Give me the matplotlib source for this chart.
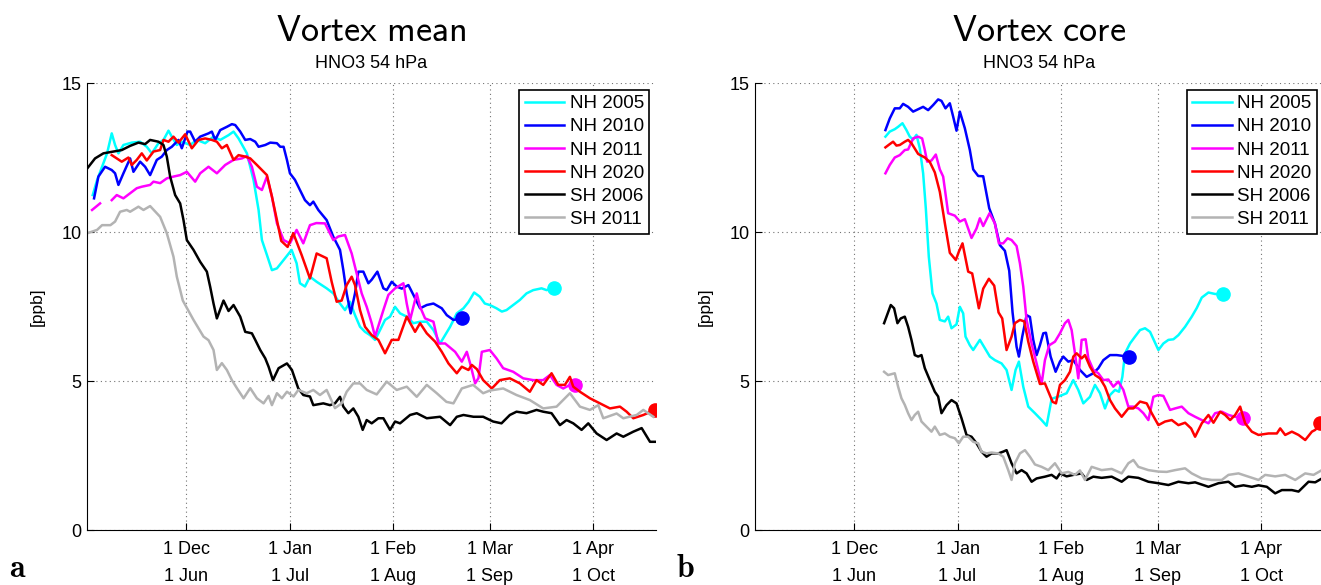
import numpy as np
import matplotlib
matplotlib.use("Agg")
import matplotlib.pyplot as plt

plt.rcParams['font.family'] = ['Liberation Sans', 'DejaVu Sans']
plt.rcParams['mathtext.fontset'] = 'cm'

# ---- x axis: days since 1 Dec (NH) / 1 Jun (SH) ----
tick_days = [0, 31, 62, 91, 122]
tick_labels = ["1 Dec\n1 Jun", "1 Jan\n1 Jul", "1 Feb\n1 Aug", "1 Mar\n1 Sep", "1 Apr\n1 Oct"]
labels = ["NH 2005", "NH 2010", "NH 2011", "NH 2020", "SH 2006", "SH 2011"]
colors = ["#00FFFF", "#0000FF", "#FF00FF", "#FF0000", "#000000", "#B3B3B3"]
with_marker = [True, True, True, True, False, False]

# ---- panel a: vortex mean ----
mean_nh2005_day = [-28, -26.7, -25.2, -23.7, -22.3, -21.3, -20.3, -18.8, -16.3, -13.8, -11.8, -10.3, -8.3, -6.8,
                   -5.3, -4.3, -2.8, -1.3, 1.2, 3.2, 5.7, 8.2, 10.2, 12.7, 14.2, 15.7, 18.2, 20.2, 21.7, 22.7,
                   24.2, 25.7, 27.2, 29.2, 31.6, 33.1, 34.1, 35.6, 37.1, 39.1, 42.1, 44.1, 46.1, 47.6, 49.1,
                   50.6, 52.1, 53.6, 55.1, 56.6, 58.1, 59.6, 61.1, 62.6, 64.1, 66.1, 68.1, 70.1, 72.1, 74.1,
                   76.1, 77.6, 79.1, 81.1, 83.1, 84.6, 86.3, 88, 89.5, 91, 93, 94.6, 96, 98, 100, 102, 104,
                   106.5, 108, 110.2]
mean_nh2005 = [11.24, 11.74, 12.19, 12.64, 13.31, 12.92, 12.64, 12.92, 13.0, 13.03, 12.86, 12.64, 12.98, 13.09,
               13.4, 13.2, 12.92, 13.03, 12.92, 13.09, 12.98, 13.2, 13.09, 13.25, 13.37, 13.14, 12.64, 11.74,
               10.74, 9.73, 9.23, 8.72, 8.78, 9.06, 9.4, 8.95, 8.28, 8.17, 8.5, 8.33, 8.11, 7.94, 7.6, 7.38,
               7.66, 7.21, 6.82, 6.65, 6.54, 6.38, 6.71, 7.05, 7.16, 7.49, 7.27, 7.16, 6.94, 6.99, 6.99, 6.71,
               6.26, 6.54, 6.82, 7.27, 7.44, 7.65, 7.97, 7.83, 7.6, 7.55, 7.44, 7.33, 7.38, 7.55, 7.72, 7.94,
               8.05, 8.11, 8.05, 8.11]

mean_nh2010_day = [-27.6, -26.3, -24.3, -22.3, -21.3, -20.3, -18.8, -16.8, -15.8, -13.8, -12.3, -10.8, -8.8, -7.3,
                   -5.8, -4.3, -2.3, -1.3, 0.4, 1.2, 2.7, 4.2, 6.7, 7.7, 8.7, 10.2, 12.2, 13.7, 14.7, 16.2, 17.7,
                   19.2, 20.7, 21.7, 23.7, 25.2, 27.2, 28.2, 29.2, 30.2, 31.1, 32.6, 34.1, 35.6, 37.1, 38.1, 39.6,
                   42.1, 44.1, 46.1, 47.1, 48.1, 49.3, 50.6, 51.6, 53.1, 54.6, 55.6, 57.3, 59.1, 60.1, 61.6, 63.1,
                   64.6, 66.6, 68.1, 70.1, 72.1, 74.1, 76.6, 78.1, 80.1, 82.6]
mean_nh2010 = [11.13, 11.86, 12.19, 12.08, 11.97, 11.58, 11.97, 12.47, 12.02, 12.36, 12.19, 11.91, 12.42, 12.53,
               12.75, 12.86, 13.09, 12.81, 13.37, 13.37, 13.03, 13.2, 13.31, 13.37, 13.09, 13.42, 13.53, 13.62,
               13.59, 13.37, 13.09, 13.12, 13.03, 12.86, 12.92, 13.0, 12.98, 12.86, 12.86, 12.42, 11.97, 11.75,
               11.41, 11.07, 10.9, 11.02, 10.74, 10.4, 9.84, 9.4, 8.72, 7.94, 7.27, 7.94, 8.67, 8.67, 8.28, 8.4,
               8.67, 8.11, 8.05, 8.33, 8.17, 8.1, 8.22, 7.89, 7.44, 7.55, 7.6, 7.44, 7.21, 7.05, 7.1]

mean_nh2011_day = [-28.2, -27, -25.8, -24, -22.3, -20.8, -18.8, -16.8, -14.8, -13.3, -10.8, -9.8, -7.8, -5.8, -3.8,
                   -1.8, 0.2, 2.7, 4.2, 6.7, 9.2, 11.7, 14.2, 16.7, 18.2, 19.7, 21.2, 22.7, 24.2, 25.7, 27.2,
                   29.2, 31.1, 33.1, 35.1, 37.1, 39, 41.6, 44.1, 45.6, 47.6, 49.6, 51.1, 52.6, 54.1, 55.6, 56.6,
                   59.1, 60.6, 62.6, 65.1, 66.1, 67.1, 69.1, 70.1, 71.6, 74.1, 75.6, 77.6, 80.6, 82.6, 84.1, 85.1,
                   86.6, 87.6, 88.6, 91, 93, 95, 98, 101, 104, 107, 109, 111, 113, 115, 116.5]
mean_nh2011 = [10.74, 10.85, 10.96, np.nan, 11.07, 11.24, 11.13, 11.3, 11.47, 11.52, 11.58, 11.69, 11.64, 11.8,
               11.86, 11.91, 12.02, 11.69, 11.97, 12.19, 11.97, 12.25, 12.42, 12.47, 12.55, 12.19, 11.52, 11.41,
               11.86, 11.19, 10.29, 9.73, 9.62, 10.07, 9.62, 10.23, 10.3, 10.29, 9.73, 9.85, 9.9, 9.28, 8.61,
               7.94, 7.49, 6.94, 6.49, 7.38, 7.89, 8.11, 8.28, 7.6, 7.05, 7.94, 7.49, 7.1, 6.99, 6.26, 6.26,
               5.98, 5.65, 5.98, 5.59, 4.92, 5.1, 5.98, 6.04, 5.76, 5.43, 5.31, 5.09, 5.03, 5.03, 5.2, 4.87,
               4.75, 4.87, 4.87]

mean_nh2020_day = [-22.3, -20.8, -19.3, -17.3, -16.3, -14.8, -13.3, -11.8, -9.8, -7.8, -6.8, -5.3, -3.8, -2.3,
                   -0.3, 1.7, 3.7, 5.7, 7.7, 9.2, 10.7, 12.2, 14.2, 15.7, 17.7, 19.2, 21.2, 22.7, 24.2, 25.7,
                   27.2, 28.5, 30.4, 32.1, 34.6, 37.1, 39.1, 42.1, 43.6, 45.1, 46.6, 48.1, 49.6, 50.6, 52.1, 53.6,
                   55.6, 57.6, 59.6, 61.6, 63.6, 66.1, 68.6, 70.1, 72.1, 74.6, 76.6, 78.6, 81.1, 82.6, 84.6, 85.6,
                   87.1, 89, 91.6, 94, 97, 100, 103, 105, 107, 109.5, 111.5, 113.5, 115, 116, 118, 121, 124, 127,
                   130, 132, 134, 137, 140.5]
mean_nh2020 = [12.58, 12.47, 12.36, 12.5, 12.25, 12.42, 12.64, 12.4, 12.7, 12.75, 13.09, 13.03, 13.2, 13.0,
               13.28, 12.81, 13.09, 13.14, 13.09, 13.03, 12.81, 12.92, 12.42, 12.58, 12.53, 12.47, 12.25, 12.08,
               11.91, 11.19, 10.4, 9.7, 9.5, 9.96, 9.23, 8.44, 9.28, 9.12, 8.33, 7.66, 7.7, 8.22, 8.5, 8.22,
               7.38, 6.82, 6.54, 6.38, 5.93, 6.38, 6.38, 7.16, 6.65, 6.94, 6.6, 6.32, 5.98, 5.59, 5.26, 5.48,
               5.37, 5.54, 5.4, 5.03, 4.75, 5.03, 5.09, 4.92, 4.64, 5.03, 4.87, 5.26, 4.87, 4.87, 5.14, 4.81,
               4.64, 4.42, 4.25, 4.08, 4.14, 3.97, 3.75, 3.86, 4.03]

mean_sh2006_day = [-29.6, -27.3, -24.8, -21.8, -19.3, -16.8, -14.3, -12.3, -10.8, -8.3, -6.8, -5.8, -4.8, -3.3,
                   -1.8, -0.8, 0.2, 2.2, 4.2, 6.2, 7.2, 8.2, 9.2, 11.2, 12.7, 14.2, 16.2, 17.7, 19.7, 20.7, 22.2,
                   23.7, 24.7, 26, 27.7, 30.2, 31.7, 33.6, 35.1, 37.1, 38.1, 41.1, 43.1, 44.6, 46.1, 47.1, 48.6,
                   50.1, 51.6, 52.9, 54.1, 55.6, 57.6, 59.1, 61.1, 62.6, 64.1, 67.1, 69.1, 72.1, 76.1, 79.1, 81.1,
                   83.1, 86.1, 89, 92, 94.5, 97, 99, 102, 105, 107, 109.5, 112, 114, 116, 118.5, 120.5, 123, 126,
                   129, 131, 134, 136.5, 139, 140.5]
mean_sh2006 = [12.14, 12.47, 12.64, 12.7, 12.75, 12.89, 13.0, 12.95, 13.09, 13.03, 12.92, 12.53, 11.86, 11.24,
               10.96, 10.4, 9.73, 9.4, 9.0, 8.67, 8.16, 7.6, 7.1, 7.7, 7.35, 7.55, 7.16, 6.65, 6.6, 6.38, 6.04,
               5.76, 5.48, 5.03, 5.43, 5.59, 5.37, 4.75, 4.53, 4.48, 4.19, 4.25, 4.19, 4.25, 4.47, 4.14, 3.92,
               4.08, 3.8, 3.36, 3.69, 3.58, 3.75, 3.75, 3.36, 3.64, 3.58, 3.86, 3.92, 3.75, 3.8, 3.52, 3.8, 3.86,
               3.8, 3.8, 3.64, 3.58, 3.86, 3.97, 3.92, 4.03, 3.97, 3.92, 3.52, 3.69, 3.58, 3.36, 3.58, 3.24,
               3.02, 3.24, 3.13, 3.3, 3.42, 2.96, 2.96]

mean_sh2011_day = [-29.6, -26.7, -25.2, -22.7, -21.3, -19.8, -17.8, -16.8, -14.3, -12.8, -10.8, -7.8, -5.8, -3.8,
                   -2.8, -1, 2.2, 5.2, 6.7, 8.2, 9.2, 10.7, 12.2, 13.7, 15.2, 17.2, 19.2, 21.2, 23.2, 24.7, 25.7,
                   27.2, 28.7, 30.2, 32.2, 33.6, 36.1, 38.1, 40.1, 42.1, 44.6, 46.6, 48.1, 50.1, 52.1, 54.1, 57.1,
                   60.1, 63.1, 66.1, 69.1, 72.1, 75.1, 78, 80.1, 82.6, 86, 89, 91, 95, 99, 103, 107, 111, 115,
                   118, 121, 123.5, 125, 129, 131, 135, 137, 140]
mean_sh2011 = [9.96, 10.07, 10.23, 10.23, 10.35, 10.68, 10.74, 10.68, 10.85, 10.74, 10.87, 10.51, 9.96, 9.17,
               8.5, 7.7, 7.05, 6.49, 6.37, 6.04, 5.37, 5.6, 5.37, 5.03, 4.76, 4.42, 4.76, 4.42, 4.25, 4.5, 4.19,
               4.59, 4.42, 4.64, 4.48, 4.7, 4.59, 4.7, 4.53, 4.7, 4.09, 4.25, 4.64, 4.92, 4.92, 4.7, 4.55, 4.98,
               4.7, 4.81, 4.47, 4.87, 4.59, 4.3, 4.25, 4.75, 4.87, 4.59, 4.68, 4.75, 4.53, 4.36, 4.08, 4.14,
               4.59, 4.14, 4.03, 4.19, 3.75, 3.91, 3.75, 3.86, 4.03, 3.8]

# ---- panel b: vortex core ----
core_nh2005_day = [9.4, 10.7, 12.2, 13.2, 14.5, 15.7, 16.7, 17.7, 18.7, 19.7, 20.7, 21.5, 22.4, 23.5, 24.7, 25.7,
                   27.2, 28.2, 29.2, 30.7, 31.7, 32.7, 33.4, 34.7, 35.7, 37.7, 39.2, 40.7, 42.2, 44.2, 45.7, 47.2,
                   48.4, 49.4, 50.7, 52.2, 54.2, 56.2, 57.7, 59.2, 61.7, 63.7, 65.7, 67.2, 68.7, 70.7, 72.2, 73.7,
                   75.2, 76.7, 78.2, 79.4, 80.4, 81.2, 82.7, 84.2, 85.7, 87.2, 88.7, 91.2, 92.7, 94.2, 95.7, 97.2,
                   99.2, 101.2, 102.7, 104.2, 106.2, 108.2, 110.5]
core_nh2005 = [13.2, 13.37, 13.45, 13.53, 13.65, 13.42, 13.2, 13.1, 13.26, 12.81, 11.97, 10.8, 9.17, 7.94, 7.6,
               7.05, 7.0, 7.16, 6.77, 6.9, 7.49, 7.27, 6.49, 6.2, 6.04, 6.38, 6.1, 5.82, 5.7, 5.59, 5.37, 4.7,
               5.37, 5.65, 4.81, 4.14, 3.92, 3.69, 3.5, 4.4, 4.5, 4.59, 5.03, 4.7, 4.25, 4.47, 4.87, 4.59, 4.08,
               4.53, 4.7, 4.64, 5.14, 5.93, 6.26, 6.49, 6.71, 6.77, 6.65, 6.04, 6.26, 6.38, 6.4, 6.54, 6.82,
               7.16, 7.45, 7.8, 7.97, 7.92, 7.92]

core_nh2010_day = [9.4, 10.7, 12.2, 13.7, 14.7, 16.2, 17.7, 19.2, 20.7, 22.2, 23.7, 25.2, 26.2, 27.4, 28.7, 29.7,
                   30.7, 31.7, 33.2, 34.7, 35.7, 37.2, 38.7, 40.5, 42.2, 43.7, 45.2, 46.5, 47.5, 48.7, 49.4, 50.4,
                   51.7, 52.7, 53.7, 54.7, 55.7, 56.7, 57.5, 58.9, 60.4, 61.7, 62.7, 64.2, 65.7, 67.7, 69.7, 71.7,
                   73.2, 74.7, 76.7, 78.7, 80.7, 82.4]
core_nh2010 = [13.42, 13.81, 14.15, 14.15, 14.3, 14.2, 14.04, 14.12, 14.2, 14.09, 14.26, 14.45, 14.4, 14.15,
               14.32, 13.87, 13.4, 14.04, 13.48, 12.75, 12.1, 11.88, 11.87, 10.8, 10.29, 9.56, 9.37, 8.7, 7.3,
               6.15, 5.82, 6.49, 7.21, 7.15, 6.38, 5.87, 6.2, 6.6, 6.62, 5.82, 5.31, 5.65, 5.82, 5.65, 5.7,
               5.37, 5.14, 5.26, 5.43, 5.7, 5.87, 5.87, 5.84, 5.82]

core_nh2011_day = [9.4, 10.7, 12.2, 13.7, 15.2, 16.2, 17.7, 19.2, 20.4, 21.2, 21.9, 23.2, 24.5, 25.7, 26.7, 28.2,
                   30.2, 31.7, 33.2, 35.2, 36.7, 37.7, 38.7, 40.6, 42.2, 43.4, 44.7, 46, 47.2, 48.7, 49.7, 50.7,
                   51.7, 53.2, 54.7, 56.2, 57.2, 58.5, 60.2, 61.7, 63.2, 64.2, 65.2, 66.2, 67.2, 68.2, 69.4, 70.2,
                   71.7, 73.2, 74.7, 76.2, 77.7, 79.2, 80.7, 82.2, 83.7, 85.2, 86.7, 88.2, 89.7, 91.2, 92.7, 94.7,
                   96.2, 98.2, 100.2, 102.2, 104.2, 106.2, 108.2, 110.2, 112.2, 114.2, 116.7]
core_nh2011 = [11.97, 12.25, 12.5, 12.58, 12.75, 12.77, 13.14, 13.2, 13.14, 12.75, 12.36, 12.4, 12.6, 12.1, 11.86,
               10.63, 10.55, 10.35, 10.43, 9.8, 10.12, 10.46, 10.2, 10.63, 10.29, 9.62, 9.62, 9.79, 9.73, 9.53,
               8.95, 8.17, 7.05, 6.26, 5.59, 4.9, 5.7, 6.2, 6.32, 6.6, 6.94, 7.05, 6.71, 5.93, 5.09, 6.38, 6.4,
               5.76, 5.37, 5.26, 5.03, 5.05, 4.81, 4.98, 4.7, 4.14, 4.14, 4.08, 3.92, 3.69, 4.47, 4.53, 4.5,
               4.03, 4.08, 4.14, 3.92, 3.8, 3.69, 3.58, 3.92, 3.97, 3.86, 3.8, 3.75]

core_nh2020_day = [9.4, 10.7, 11.7, 12.7, 13.7, 15.2, 16.2, 17.2, 19.2, 21.2, 22.7, 24.2, 25.7, 27.2, 28.7, 30.5,
                   31.4, 32.5, 34.2, 35.4, 37.4, 38.7, 40.4, 42, 43.3, 44.4, 45.7, 47.2, 48.2, 49.7, 51, 52.2,
                   53.7, 55.7, 57.2, 59.5, 60.5, 61.7, 63.2, 64.7, 65.7, 66.7, 68.2, 69.2, 70.7, 72.2, 73.7, 75.2,
                   76.7, 78.2, 80.2, 82.2, 83.7, 85.7, 87.7, 89.2, 91.2, 93.2, 95.2, 97.2, 99.2, 101, 102.2, 104.2,
                   106.2, 107.7, 109.7, 111.2, 112.7, 114.2, 115.7, 117.2, 119.2, 121.2, 124.2, 126.7, 127.7,
                   129.2, 131.2, 133.2, 135.2, 137.2, 138.2, 139.7]
core_nh2020 = [12.84, 12.95, 13.03, 12.9, 12.92, 13.03, 13.09, 12.98, 12.62, 12.5, 12.35, 12.0, 11.35, 10.3, 9.3,
               9.06, 9.34, 9.62, 8.67, 8.61, 7.44, 8.1, 8.43, 8.2, 7.3, 7.1, 6.04, 6.49, 6.94, 7.05, 7.0, 6.32,
               5.65, 4.9, 4.92, 4.3, 4.25, 4.87, 5.03, 5.31, 5.82, 5.93, 5.76, 5.87, 5.48, 5.2, 5.09, 4.81, 4.36,
               4.08, 3.8, 4.08, 4.08, 4.31, 4.25, 3.92, 3.52, 3.64, 3.69, 3.52, 3.6, 3.41, 3.13, 3.58, 3.86, 3.6,
               3.97, 3.86, 3.69, 3.86, 4.14, 3.58, 3.3, 3.19, 3.24, 3.24, 3.41, 3.19, 3.3, 3.19, 3.02, 3.3, 3.36,
               3.58]

core_sh2006_day = [9.0, 11.0, 12.0, 13.0, 14.0, 15.2, 16.2, 17.2, 18.2, 19.2, 20.2, 21.2, 22.7, 24.2, 25.2, 26.2,
                   27.7, 29.2, 30.7, 32.2, 33.7, 35.2, 36.7, 38.2, 39.7, 41.2, 43.2, 44.7, 45.7, 47.2, 48.7, 50.2,
                   51.7, 53.2, 54.7, 57.2, 59.2, 60.7, 61.7, 63.7, 65.7, 68.2, 69.7, 71.7, 74.2, 77.2, 80.2, 82.2,
                   85.2, 88.2, 91.2, 94.2, 97.2, 100.2, 102.2, 106.2, 109.2, 112.2, 114.2, 116.7, 119.2, 121.2,
                   123.7, 126.2, 128.2, 131.2, 133.2, 136.2, 138.2, 140.2]
core_sh2006 = [6.94, 7.55, 7.44, 6.94, 7.1, 7.16, 6.82, 6.38, 5.87, 5.82, 5.87, 5.43, 5.03, 4.64, 4.48, 3.92,
               4.19, 4.36, 4.25, 3.75, 3.19, 3.13, 2.91, 2.63, 2.46, 2.57, 2.57, 2.63, 2.68, 2.24, 1.9, 2.01, 1.9,
               1.62, 1.73, 1.79, 1.85, 1.73, 1.9, 1.8, 1.85, 1.9, 1.68, 1.79, 1.75, 1.79, 1.62, 1.79, 1.75, 1.62,
               1.57, 1.51, 1.62, 1.57, 1.6, 1.45, 1.57, 1.62, 1.45, 1.5, 1.45, 1.5, 1.45, 1.23, 1.34, 1.34, 1.29,
               1.62, 1.6, 1.73]

core_sh2011_day = [9.0, 10.2, 12.2, 13.2, 14.2, 15.2, 16.2, 17.2, 18.2, 19.2, 20.2, 21.7, 23.2, 24.2, 25.7, 27.2,
                   28.7, 30.2, 31.4, 32.7, 34.2, 35.7, 37.2, 38.2, 39.7, 41.2, 43.2, 44.7, 46.2, 47.2, 48.2, 49.7,
                   51.2, 52.7, 54.2, 56.2, 58.2, 60.2, 62.2, 64.2, 66.2, 67.7, 69.2, 71.2, 74.2, 77.2, 80.2, 82.2,
                   83.7, 85.2, 88.2, 91.2, 93.7, 96.2, 99.2, 101.2, 104.2, 107.2, 110.2, 112.2, 115.2, 118.2, 121.2,
                   123.2, 126.2, 129.2, 132.2, 135.2, 137.7, 140.2]
core_sh2011 = [5.31, 5.2, 5.26, 4.81, 4.42, 4.2, 3.92, 3.69, 3.86, 3.97, 3.64, 3.47, 3.3, 3.47, 3.19, 3.24, 3.13,
               3.08, 2.91, 3.13, 3.13, 2.96, 2.91, 2.63, 2.57, 2.6, 2.57, 2.46, 2.01, 1.68, 2.24, 2.57, 2.68, 2.46,
               2.2, 2.12, 2.01, 2.24, 1.9, 1.95, 1.85, 2.0, 1.68, 2.12, 2.01, 2.05, 1.9, 2.24, 2.35, 2.12, 2.01,
               1.96, 1.95, 2.01, 2.07, 1.9, 1.73, 1.68, 1.68, 1.85, 1.9, 1.79, 1.68, 1.85, 1.8, 1.85, 1.68, 1.9,
               1.85, 2.01]

panels = [
    ("Vortex mean", [(mean_nh2005_day, mean_nh2005), (mean_nh2010_day, mean_nh2010),
                     (mean_nh2011_day, mean_nh2011), (mean_nh2020_day, mean_nh2020),
                     (mean_sh2006_day, mean_sh2006), (mean_sh2011_day, mean_sh2011)]),
    ("Vortex core", [(core_nh2005_day, core_nh2005), (core_nh2010_day, core_nh2010),
                     (core_nh2011_day, core_nh2011), (core_nh2020_day, core_nh2020),
                     (core_sh2006_day, core_sh2006), (core_sh2011_day, core_sh2011)]),
]

fig = plt.figure(figsize=(13.21, 5.85), dpi=100)
axes_pos = [[0.0659, 0.094, 0.4307, 0.7641], [0.5715, 0.094, 0.4307, 0.7641]]

for (title, series), pos, letter, lx in zip(panels, axes_pos, ["a", "b"], [0.007, 0.512]):
    ax = fig.add_axes(pos)
    for (d, v), lab, c, mk in zip(series, labels, colors, with_marker):
        ax.plot(d, v, color=c, lw=1.8, label=lab)
        if mk:
            ax.plot(d[-1], v[-1], "o", color=c, ms=9.5)

    ax.set_xlim(-29.7, 140.8)
    ax.set_ylim(0, 15)
    ax.set_xticks(tick_days)
    ax.set_xticklabels(tick_labels, linespacing=1.75)
    ax.set_yticks([0, 5, 10, 15])
    ax.tick_params(direction="in", length=5, width=0.8, labelsize=13)
    ax.tick_params(axis="x", pad=8)
    ax.tick_params(axis="y", pad=4)
    for s in ["top", "right"]:
        ax.spines[s].set_visible(False)
    ax.grid(True, linestyle=(0, (1, 3)), color="0.45", linewidth=0.8)
    ax.set_ylabel("[ppb]", fontsize=12.5)
    ax.yaxis.set_label_coords(-0.074, 0.5)

    ax.text(0.5, 1.094, r"$\mathsf{%s}$" % title.replace(" ", r"\ "), transform=ax.transAxes,
            ha="center", va="baseline", fontsize=26)
    ax.text(0.5, 1.034, "HNO3 54 hPa", transform=ax.transAxes,
            ha="center", va="baseline", fontsize=13)

    leg = ax.legend(loc="upper right", fontsize=13.5, frameon=True, fancybox=False, framealpha=1,
                    borderpad=0.3, labelspacing=0.32, handlelength=2.1, handletextpad=0.3,
                    borderaxespad=0.35)
    leg.get_frame().set_edgecolor("black")
    leg.get_frame().set_linewidth(1.2)

    fig.text(lx, 0.014, r"$\mathbf{%s}$" % letter, fontsize=23, ha="left", va="baseline")

fig.savefig("out.png", dpi=100)
